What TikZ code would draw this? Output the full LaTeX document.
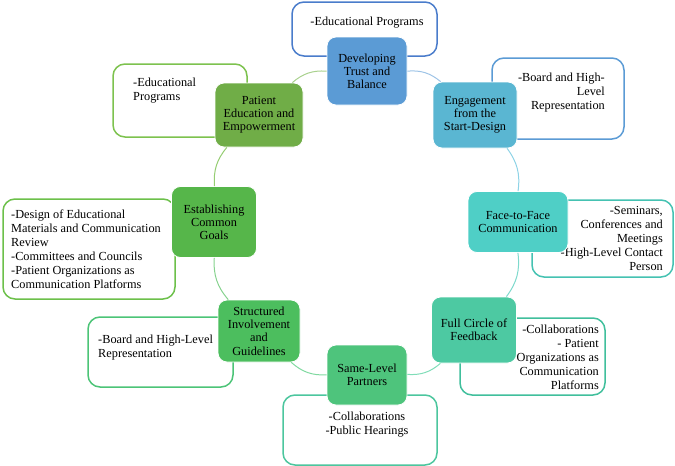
\documentclass[tikz,border=0pt]{standalone}
\usepackage{fontspec}
\setmainfont{Liberation Serif}
\definecolor{fDev}{HTML}{5B9BD5}
\definecolor{fEng}{HTML}{5AB6D2}
\definecolor{fFtf}{HTML}{4FCFC6}
\definecolor{fFcf}{HTML}{4DC9A2}
\definecolor{fSlp}{HTML}{4EC47C}
\definecolor{fSig}{HTML}{4CBE5E}
\definecolor{fEcg}{HTML}{56B64A}
\definecolor{fPee}{HTML}{70AD47}
\definecolor{bDev}{HTML}{4A7CCB}
\definecolor{bEng}{HTML}{5B9BD5}
\definecolor{bFtf}{HTML}{45C2B2}
\definecolor{bFcf}{HTML}{40BF9C}
\definecolor{bSlp}{HTML}{4CC69E}
\definecolor{bSig}{HTML}{4CC477}
\definecolor{bEcg}{HTML}{6CC04A}
\definecolor{bPee}{HTML}{7DC24E}
\definecolor{aDE}{HTML}{9DC3E6}
\definecolor{aEF}{HTML}{8ED3E6}
\definecolor{aFF}{HTML}{7ED9CC}
\definecolor{aFS}{HTML}{80DDB8}
\definecolor{aSS}{HTML}{80D9A0}
\definecolor{aSE}{HTML}{86D28E}
\definecolor{aEP}{HTML}{95CD72}
\definecolor{aPD}{HTML}{A9D18E}
\begin{document}
\begin{tikzpicture}[x=1pt,y=1pt,
  mainbox/.style={rounded corners=9pt, draw=white, line width=0.8pt, align=center,
    font=\fontsize{12.3}{13.2}\selectfont, text=black, inner sep=2pt},
  subbox/.style={rounded corners=12pt, line width=1.5pt, fill=white},
  subtxt/.style={font=\fontsize{12.3}{14}\selectfont, inner sep=0pt},
  ring/.style={line width=1pt, bend left=22}
]
\useasboundingbox (0,0) rectangle (675,-466);

% secondary boxes
\node[subbox, draw=bDev, minimum width=145pt, minimum height=54pt] (dbox) at (364.5,-29) {};
\node[subbox, draw=bEng, minimum width=132pt, minimum height=81pt] (ebox) at (558,-98.5) {};
\node[subbox, draw=bFtf, minimum width=141pt, minimum height=77pt] (fbox) at (602.5,-238.5) {};
\node[subbox, draw=bFcf, minimum width=145pt, minimum height=77pt] (cbox) at (532.5,-356.5) {};
\node[subbox, draw=bSlp, minimum width=154pt, minimum height=70pt] (sbox) at (360,-430) {};
\node[subbox, draw=bSig, minimum width=145pt, minimum height=70pt] (gbox) at (160.5,-352) {};
\node[subbox, draw=bEcg, minimum width=172pt, minimum height=100pt] (obox) at (89,-249) {};
\node[subbox, draw=bPee, minimum width=134pt, minimum height=73pt] (pbox) at (180,-100.5) {};

% texts of secondary boxes
\node[subtxt] (dtxt) at (367,-23) {-Educational Programs};
\node[subtxt, anchor=east, align=right] (etxt) at (605,-93) {-Board and High-\\Level\\Representation};
\node[subtxt, anchor=east, align=right] (ftxt) at (663,-238) {-Seminars,\\Conferences and\\Meetings\\-High-Level Contact\\Person};
\node[subtxt, anchor=east, align=right] (ctxt) at (599,-357) {-Collaborations\\- Patient\\Organizations as\\Communication\\Platforms};
\node[subtxt, align=center] (stxt) at (367,-425) {-Collaborations\\-Public Hearings};
\node[subtxt, anchor=west, align=left] (gtxt) at (98,-348) {-Board and High-Level\\Representation};
\node[subtxt, anchor=west, align=left] (otxt) at (11,-249) {-Design of Educational\\Materials and Communication\\Review\\-Committees and Councils\\-Patient Organizations as\\Communication Platforms};
\node[subtxt, anchor=west, align=left] (ptxt) at (133,-91) {-Educational\\Programs};

% main nodes
\node[mainbox, fill=fDev, minimum width=80pt, minimum height=68pt] (dev) at (367,-71) {Developing\\Trust and\\Balance};
\node[mainbox, fill=fEng, minimum width=84pt, minimum height=66pt] (eng) at (475,-115) {Engagement\\from the\\Start-Design};
\node[mainbox, fill=fFtf, minimum width=100pt, minimum height=61pt] (ftf) at (518,-222) {Face-to-Face\\Communication};
\node[mainbox, fill=fFcf, minimum width=85pt, minimum height=66pt] (fcf) at (474,-330) {Full Circle of\\Feedback};
\node[mainbox, fill=fSlp, minimum width=80pt, minimum height=60pt] (slp) at (367,-375) {Same-Level\\Partners};
\node[mainbox, fill=fSig, minimum width=82pt, minimum height=62pt] (sig) at (259,-331) {Structured\\Involvement\\and\\Guidelines};
\node[mainbox, fill=fEcg, minimum width=85pt, minimum height=71pt] (ecg) at (214,-222) {Establishing\\Common\\Goals};
\node[mainbox, fill=fPee, minimum width=88pt, minimum height=64pt] (pee) at (259,-115) {Patient\\Education and\\Empowerment};

% ring connectors
\draw[ring, aDE] (dev) to (eng);
\draw[ring, aEF] (eng) to (ftf);
\draw[ring, aFF] (ftf) to (fcf);
\draw[ring, aFS] (fcf) to (slp);
\draw[ring, aSS] (slp) to (sig);
\draw[ring, aSE] (sig) to (ecg);
\draw[ring, aEP] (ecg) to (pee);
\draw[ring, aPD] (pee) to (dev);
\end{tikzpicture}
\end{document}
